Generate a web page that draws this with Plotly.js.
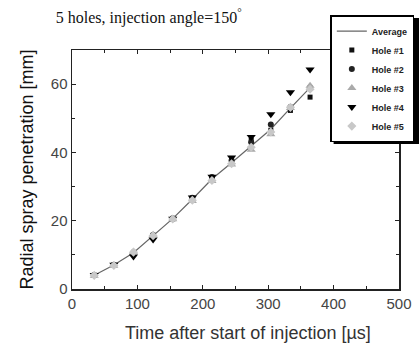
<!DOCTYPE html>
<html><head><meta charset="utf-8">
<script src="https://cdn.plot.ly/plotly-3.0.1.min.js"></script>
<style>body{margin:0;padding:0;background:#fff}</style>
</head><body>
<div id="chart" style="width:419px;height:344px"></div>
<script>
// Time after start of injection [µs]
const time = [34, 64, 94, 124, 154, 184, 214, 244, 274, 304, 334, 364];
const average = [4.0, 7.0, 10.6, 15.6, 20.6, 26.3, 32.2, 37.0, 42.0, 46.8, 53.0, 59.0];
const hole1 = [4.0, 7.0, 10.5, 15.7, 20.5, 26.6, 32.6, 37.5, 43.5, 46.5, 52.3, 56.2];
const hole2 = [4.1, 7.1, 10.8, 15.8, 20.7, 26.7, 32.8, 37.6, 43.0, 48.2, 53.3, 59.0];
const hole3 = [3.9, 6.8, 10.9, 15.9, 20.4, 25.8, 31.6, 36.5, 40.8, 45.3, 53.0, 59.5];
const hole4 = [4.1, 7.1, 9.5, 14.5, 20.6, 26.8, 32.9, 38.5, 44.5, 51.2, 57.6, 64.3];
const hole5 = [4.0, 6.9, 10.8, 15.6, 20.5, 26.0, 31.8, 36.7, 41.5, 46.0, 53.2, 58.5];

const traces = [
  {x: time, y: average, name: 'Average', mode: 'lines', line: {color: '#666', width: 1.2}},
  {x: time, y: hole1, name: 'Hole #1', mode: 'markers', marker: {symbol: 'square', size: 5, color: '#111'}},
  {x: time, y: hole2, name: 'Hole #2', mode: 'markers', marker: {symbol: 'circle', size: 6, color: '#222'}},
  {x: time, y: hole3, name: 'Hole #3', mode: 'markers', marker: {symbol: 'triangle-up', size: 8, color: '#aaa'}},
  {x: time, y: hole4, name: 'Hole #4', mode: 'markers', marker: {symbol: 'triangle-down', size: 8, color: '#000'}},
  {x: time, y: hole5, name: 'Hole #5', mode: 'markers', marker: {symbol: 'diamond', size: 7, color: '#c8c8c8'}}
];

const axisCommon = {
  showline: true, linecolor: '#222', linewidth: 1.5, mirror: 'allticks',
  ticks: 'inside', ticklen: 4, tickcolor: '#222', tickwidth: 1,
  showgrid: false, zeroline: false,
  tickfont: {family: 'Arial, Liberation Sans, sans-serif', size: 15, color: '#444'}
};

const layout = {
  width: 419, height: 344,
  margin: {l: 72, r: 20, t: 50, b: 55, autoexpand: false},
  paper_bgcolor: '#fff', plot_bgcolor: '#fff',
  showlegend: true,
  title: {
    text: '5 holes, injection angle=150<sup>°</sup>',
    font: {family: 'Liberation Serif, Times New Roman, serif', size: 16, color: '#111'},
    x: 0.355, xref: 'container', xanchor: 'center', y: 0.95, yref: 'container', yanchor: 'middle'
  },
  xaxis: Object.assign({}, axisCommon, {
    range: [0, 500], dtick: 100, tick0: 0,
    minor: {dtick: 50, ticks: 'inside', ticklen: 3, tickcolor: '#222'}
  }),
  yaxis: Object.assign({}, axisCommon, {
    range: [0, 70], dtick: 20, tick0: 0,
    minor: {dtick: 10, ticks: 'inside', ticklen: 3, tickcolor: '#222'},
    title: {text: 'Radial spray penetration [mm]', standoff: 12,
      font: {family: 'Arial, Liberation Sans, sans-serif', size: 18, color: '#111'}}
  }),
  annotations: [{
    text: 'Time after start of injection [µs]', showarrow: false,
    xref: 'paper', yref: 'paper', x: 0.538, y: -0.185, xanchor: 'center', yanchor: 'middle',
    font: {family: 'Arial, Liberation Sans, sans-serif', size: 18, color: '#333'}
  }],
  legend: {
    x: 0.79, y: 1.146, xanchor: 'left', yanchor: 'top',
    bgcolor: '#fff', bordercolor: '#000', borderwidth: 1.5,
    font: {family: 'Arial, Liberation Sans, sans-serif', size: 9, color: '#222', weight: 'bold'},
    itemwidth: 30, tracegroupgap: 0
  },
  shapes: [{
    type: 'rect', xref: 'paper', yref: 'paper', layer: 'above',
    x0: 0.80, x1: 1.1, y0: 0.607, y1: 1.134,
    fillcolor: '#000', line: {width: 0}
  }]
};

Plotly.newPlot('chart', traces, layout, {displayModeBar: false, staticPlot: true});
</script>
</body></html>
